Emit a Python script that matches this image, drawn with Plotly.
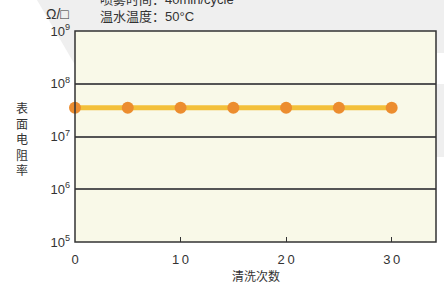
import plotly.graph_objects as go

wash_counts = [0, 5, 10, 15, 20, 25, 30]
resistivity = [3.5e7, 3.5e7, 3.5e7, 3.5e7, 3.5e7, 3.5e7, 3.5e7]
y_tick_vals = [1e5, 1e6, 1e7, 1e8, 1e9]
y_tick_text = ["10<sup>5</sup>", "10<sup>6</sup>", "10<sup>7</sup>", "10<sup>8</sup>", "10<sup>9</sup>"]
x_tick_vals = [0, 10, 20, 30]
x_tick_text = ["0", "1\u20090", "2\u20090", "3\u20090"]

W, H = 444, 288
L, R, T, B = 75, 8, 31, 46
pw, ph = W - L - R, H - T - B

def px(x):
    return (x - L) / pw

def py(y):
    return (H - B - y) / ph

font = "Liberation Sans, Arial, Noto Sans CJK SC, sans-serif"

fig = go.Figure()
fig.add_trace(go.Scatter(
    x=wash_counts, y=resistivity, mode="lines+markers",
    line=dict(color="#f3c03a", width=5),
    marker=dict(color="#ec8d2f", size=12),
    cliponaxis=False, showlegend=False,
))

shapes = [
    dict(type="path", xref="paper", yref="paper", layer="below",
         path=f"M {px(37)} {py(0)} L {px(444)} {py(0)} L {px(444)} {py(157)} L {px(129)} {py(157)} Z",
         fillcolor="#efefef", line=dict(width=0)),
    dict(type="rect", xref="paper", yref="paper", layer="below",
         x0=px(437), x1=px(445), y0=py(84), y1=py(53), fillcolor="white", line=dict(width=0)),
    dict(type="rect", xref="paper", yref="paper", layer="below",
         x0=0, x1=1, y0=0, y1=1, fillcolor="#f9f9e8", line=dict(width=0)),
    dict(type="rect", xref="paper", yref="paper", layer="above",
         x0=0, x1=1, y0=0, y1=1, line=dict(color="#333333", width=1.5)),
]

annotations = [
    dict(text="喷雾时间：40min/cycle", x=px(98), y=py(-1), xref="paper", yref="paper",
         xanchor="left", yanchor="middle", showarrow=False, font=dict(size=13, color="#333333", family=font)),
    dict(text="温水温度：50°C", x=px(98), y=py(17), xref="paper", yref="paper",
         xanchor="left", yanchor="middle", showarrow=False, font=dict(size=13, color="#333333", family=font)),
    dict(text="Ω/□", x=px(71), y=py(14), xref="paper", yref="paper",
         xanchor="right", yanchor="middle", showarrow=False, font=dict(size=14, color="#333333", family=font)),
    dict(text="表<br>面<br>电<br>阻<br>率", x=px(22), y=py(140), xref="paper", yref="paper",
         xanchor="center", yanchor="middle", showarrow=False, font=dict(size=12, color="#333333", family=font)),
    dict(text="清洗次数", x=0.5, y=py(276), xref="paper", yref="paper",
         xanchor="center", yanchor="middle", showarrow=False, font=dict(size=12, color="#333333", family=font)),
]

fig.update_layout(
    width=W, height=H,
    margin=dict(l=L, r=R, t=T, b=B, pad=0, autoexpand=False),
    paper_bgcolor="white", plot_bgcolor="rgba(0,0,0,0)",
    shapes=shapes, annotations=annotations,
    font=dict(family=font, color="#333333", size=13),
    xaxis=dict(range=[0, 34.2], tickvals=x_tick_vals, ticktext=x_tick_text,
               ticks="inside", ticklen=5, tickwidth=1, tickcolor="#333333",
               showgrid=False, zeroline=False, showline=False, fixedrange=True,
               automargin=False, ticklabelstandoff=8,
               tickfont=dict(size=13)),
    yaxis=dict(type="log", range=[5, 9], tickvals=y_tick_vals, ticktext=y_tick_text,
               ticks="", showgrid=True, gridcolor="#555555", gridwidth=1.5,
               zeroline=False, showline=False, fixedrange=True,
               automargin=False, ticklabelstandoff=4,
               tickfont=dict(size=13)),
)

fig.write_html("out.html", config={"displayModeBar": False},
               post_script="document.body.style.margin='0';document.body.style.overflow='hidden';")
